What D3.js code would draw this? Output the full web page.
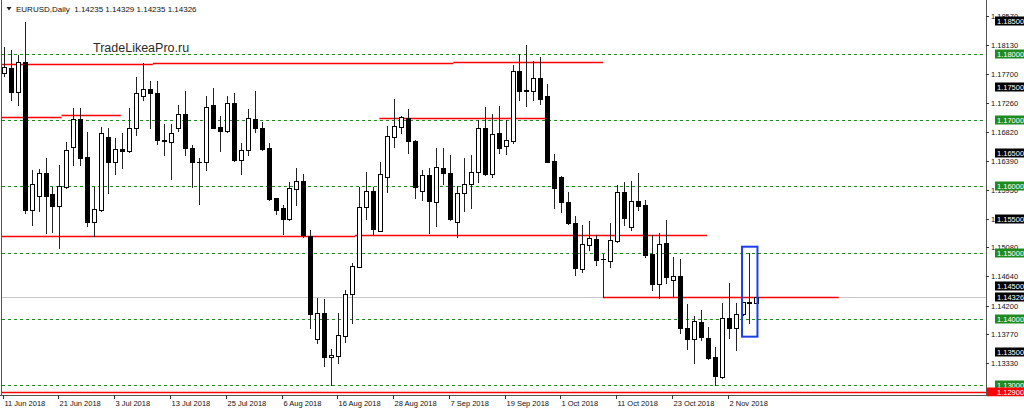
<!DOCTYPE html>
<html><head><meta charset="utf-8">
<script src="https://cdn.jsdelivr.net/npm/d3@7"></script>
<style>
body{margin:0;background:#fff}
svg{display:block}
text{font-family:"Liberation Sans",Arial,sans-serif}
</style>
</head><body>
<svg id="c" width="1024" height="413"></svg>
<script>
// ---- DATA (EURUSD Daily, bar 0 = 11 Jun 2018 ... bar 108 = 8 Nov 2018) ----
const open = [1.17708,1.17784,1.17431,1.17884,1.15643,1.15855,1.16198,1.15881,1.15708,1.15995,
1.16600,1.17014,1.16440,1.15462,1.15643,1.16742,1.16369,1.16560,1.16535,1.16878,
1.17370,1.17467,1.17415,1.16701,1.16675,1.16878,1.17089,1.16576,1.16373,1.16373,
1.17230,1.16893,1.16837,1.17255,1.16399,1.16550,1.17018,1.16878,1.16576,1.15820,
1.15669,1.15507,1.15961,1.16082,1.15251,1.13690,1.14092,1.13423,1.13438,1.13740,
1.14370,1.14787,1.15684,1.15935,1.15331,1.16137,1.16751,1.16902,1.17029,1.16690,
1.15935,1.16172,1.15769,1.16282,1.16198,1.15458,1.15896,1.16032,1.16222,1.16878,
1.16187,1.16811,1.16615,1.16690,1.17743,1.17452,1.17446,1.17642,1.17366,1.16388,
1.16147,1.15769,1.15452,1.14748,1.15115,1.15201,1.14899,1.14878,1.15180,1.15911,
1.15390,1.15779,1.15719,1.14979,1.14530,1.15150,1.14590,1.14646,1.13861,1.13695,
1.13956,1.13705,1.13418,1.13125,1.14007,1.13856,1.14068,1.14249,1.14235];
const high = [1.18100,1.18060,1.17985,1.18488,1.16248,1.16263,1.16429,1.15995,1.16323,1.16675,
1.17180,1.17180,1.16826,1.15991,1.16893,1.16878,1.16727,1.16802,1.17180,1.17648,
1.17860,1.17592,1.17592,1.16938,1.16938,1.17230,1.17446,1.16621,1.16429,1.17366,
1.17482,1.17063,1.17366,1.17406,1.16651,1.17165,1.17446,1.16977,1.16651,1.15825,
1.15719,1.16071,1.16273,1.16183,1.15341,1.14310,1.14294,1.13539,1.14083,1.14435,
1.14838,1.15995,1.16213,1.15995,1.16373,1.16912,1.17316,1.17068,1.17165,1.16700,
1.16248,1.16273,1.16576,1.16576,1.16474,1.16011,1.16424,1.16474,1.17003,1.17195,
1.17094,1.17215,1.17003,1.17834,1.17995,1.18136,1.17899,1.17959,1.17547,1.16489,
1.16162,1.15920,1.15550,1.15417,1.15477,1.15266,1.14979,1.15443,1.16021,1.16071,
1.16086,1.16202,1.15795,1.15266,1.15300,1.15492,1.14929,1.14903,1.14224,1.14042,
1.14133,1.13881,1.13579,1.14234,1.14536,1.14234,1.14255,1.14989,1.14329];
const low = [1.17668,1.17305,1.17230,1.15603,1.15417,1.15628,1.15296,1.15316,1.15069,1.15976,
1.16323,1.16323,1.15402,1.15251,1.15628,1.15900,1.16187,1.16273,1.16520,1.16776,
1.17305,1.16887,1.16640,1.16474,1.16107,1.16841,1.16474,1.15995,1.15730,1.16248,
1.16882,1.16535,1.16829,1.16384,1.16187,1.16474,1.16826,1.16550,1.15795,1.15578,
1.15281,1.15492,1.15719,1.15243,1.13856,1.13639,1.13287,1.13000,1.13337,1.13654,
1.13932,1.14782,1.15507,1.15281,1.15326,1.15920,1.16600,1.16800,1.16500,1.15829,
1.15795,1.15291,1.15406,1.16032,1.15492,1.15240,1.15628,1.15678,1.16062,1.16172,
1.16137,1.16500,1.16485,1.16660,1.17305,1.17215,1.17305,1.17245,1.16369,1.15669,
1.15613,1.15432,1.14660,1.14707,1.15039,1.14813,1.14326,1.14787,1.15165,1.15417,
1.15341,1.15643,1.14933,1.14435,1.14320,1.14541,1.14330,1.13785,1.13544,1.13332,
1.13680,1.13400,1.13000,1.13101,1.13705,1.13529,1.14057,1.13932,1.14235];
const close = [1.17808,1.17431,1.17884,1.15643,1.16032,1.16207,1.15855,1.15708,1.16006,1.16550,
1.17014,1.16434,1.15467,1.15659,1.16802,1.16369,1.16560,1.16535,1.16878,1.17406,
1.17467,1.17415,1.16701,1.16690,1.16802,1.17089,1.16585,1.16364,1.16370,1.17204,
1.16887,1.16837,1.17255,1.16399,1.16550,1.17029,1.16887,1.16560,1.15810,1.15643,
1.15507,1.15971,1.16082,1.15266,1.14072,1.14092,1.13427,1.13453,1.13755,1.14370,
1.14798,1.15693,1.15935,1.15352,1.16187,1.16761,1.16912,1.17044,1.16686,1.15995,
1.16172,1.15784,1.16288,1.16198,1.15507,1.15896,1.16032,1.16222,1.16878,1.16183,
1.16792,1.16576,1.16701,1.17743,1.17446,1.17437,1.17642,1.17320,1.16373,1.15971,
1.15760,1.15452,1.14767,1.15125,1.15216,1.14888,1.14896,1.15190,1.15911,1.15530,
1.15779,1.15708,1.14964,1.14530,1.15125,1.14631,1.14646,1.13861,1.13695,1.13967,
1.13730,1.13403,1.13136,1.14007,1.13856,1.14068,1.14249,1.14243,1.14326];

const xTickLabels = ["11 Jun 2018","21 Jun 2018","3 Jul 2018","13 Jul 2018","25 Jul 2018","6 Aug 2018",
"16 Aug 2018","28 Aug 2018","7 Sep 2018","19 Sep 2018","1 Oct 2018","11 Oct 2018","23 Oct 2018","2 Nov 2018"];
const xTickStep = 8;
const yTickLabels = ["1.18570","1.18130","1.17700","1.17260","1.16820","1.16390","1.15950","1.15510",
"1.15080","1.14640","1.14200","1.13770","1.13330"];
const greenLevels = [1.18,1.17,1.16,1.15,1.14,1.13];
const greenLabels = ["1.18000","1.17000","1.16000","1.15000","1.14000","1.13000"];
const blackLevels = [1.185,1.175,1.165,1.155,1.145,1.135];
const blackLabels = ["1.18500","1.17500","1.16500","1.15500","1.14500","1.13500"];
// red support / resistance lines: price, from bar, to bar
const redPrice = [1.17856,1.17869,1.17876,1.17053,1.17074,1.17029,1.15251,1.15266,1.14326];
const redFrom  = [-0.3,21.4,64.5,-0.3,8.3,53.9,-0.3,50.4,86];
const redTo    = [21.4,64.5,86,8.3,16.8,77.9,50.4,100.9,119.8];
const bottomLevel = 1.129, bottomLabel = "1.12900";
const lastPrice = 1.14326, lastLabel = "1.14326";
const boxFrom = 106, boxTo = 108, boxHigh = 1.15089, boxLow = 1.1373;
const headerText = "EURUSD,Daily  1.14235 1.14329 1.14235 1.14326";
const watermark = "TradeLikeaPro.ru";

// ---- CHART ----
const svg = d3.select("#c");
const plotL = 2, plotR = 986, plotB = 395;
const y = d3.scaleLinear().domain([1.128489, 1.188157]).range([plotB, 0]);
const x = d3.scaleLinear().domain([0, 108]).range([3.7, 3.7 + 6.97*108]);
const py = v => Math.round(y(v)) + 0.5;
const RED = "#ff0000";

svg.append("rect").attr("width",1024).attr("height",413).attr("fill","#fff");
svg.append("clipPath").attr("id","pc").append("rect")
  .attr("x",plotL).attr("y",0).attr("width",plotR-plotL).attr("height",plotB);
const g = svg.append("g").attr("clip-path","url(#pc)");

// green dashed levels
g.selectAll(".lvl").data(greenLevels).join("line")
  .attr("x1",plotL).attr("x2",plotR-3).attr("y1",py).attr("y2",py)
  .attr("stroke","#1f8a1f").attr("stroke-width",1).attr("stroke-dasharray","3,3");

// last price line
g.append("line").attr("x1",plotL).attr("x2",plotR).attr("y1",py(lastPrice)).attr("y2",py(lastPrice))
  .attr("stroke","#c8c8c8").attr("stroke-width",1);

// bottom red line
g.append("line").attr("x1",plotL).attr("x2",plotR).attr("y1",py(bottomLevel)).attr("y2",py(bottomLevel))
  .attr("stroke",RED).attr("stroke-width",1.5);

// red S/R lines
g.append("g").selectAll("line").data(d3.range(redPrice.length)).join("line")
  .attr("x1",i=>x(redFrom[i])).attr("x2",i=>x(redTo[i]))
  .attr("y1",i=>py(redPrice[i])).attr("y2",i=>py(redPrice[i]))
  .attr("stroke",RED).attr("stroke-width",1.5);

// candles
const idx = d3.range(open.length);
const cx = i => Math.round(x(i)) + 0.5;
g.append("g").selectAll("line").data(idx).join("line")
  .attr("x1",cx).attr("x2",cx)
  .attr("y1",i=>Math.round(y(high[i]))).attr("y2",i=>Math.round(y(low[i]))+1)
  .attr("stroke","#222").attr("stroke-width",1);
g.append("g").selectAll("rect").data(idx).join("rect")
  .attr("x",i=>Math.round(x(i))-1.5).attr("width",4)
  .attr("y",i=>py(Math.max(open[i],close[i])))
  .attr("height",i=>Math.max(0.001, Math.round(y(Math.min(open[i],close[i]))) - Math.round(y(Math.max(open[i],close[i])))))
  .attr("fill",i=>close[i]>=open[i] ? "#fff" : "#000")
  .attr("stroke","#000").attr("stroke-width",1);

// blue highlight box
g.append("rect")
  .attr("x",x(boxFrom)-0.5).attr("y",y(boxHigh))
  .attr("width",x(boxTo)-x(boxFrom)+1.5).attr("height",y(boxLow)-y(boxHigh))
  .attr("fill","none").attr("stroke","#1f3fe6").attr("stroke-width",2);

// header
svg.append("path").attr("d","M6.5,7 L11.5,7 L9,10.5 Z").attr("fill","#222");
svg.append("text").attr("x",16).attr("y",12).attr("font-size",8).attr("fill","#111")
  .attr("xml:space","preserve").text(headerText);
svg.append("text").attr("x",93).attr("y",52).attr("font-size",12.5).attr("fill","#2a2a2a").text(watermark);

// frame
svg.append("line").attr("x1",1.5).attr("x2",1.5).attr("y1",0).attr("y2",plotB).attr("stroke","#555");
svg.append("line").attr("x1",0).attr("x2",plotR+1).attr("y1",plotB+0.5).attr("y2",plotB+0.5).attr("stroke","#555");
svg.append("line").attr("x1",plotR+0.5).attr("x2",plotR+0.5).attr("y1",0).attr("y2",plotB).attr("stroke","#555");

// x axis
const xt = svg.append("g");
xTickLabels.forEach((lab,k)=>{
  const xx = Math.round(x(k*xTickStep)) - 0.5;
  xt.append("line").attr("x1",xx).attr("x2",xx).attr("y1",plotB).attr("y2",plotB+4).attr("stroke","#333");
  xt.append("text").attr("x",xx+1).attr("y",405.5).attr("font-size",7.5).attr("fill","#111").text(lab);
});

// y axis plain tick labels
const yt = svg.append("g");
yTickLabels.forEach(lab=>{
  const yy = py(+lab);
  yt.append("line").attr("x1",plotR).attr("x2",plotR+3).attr("y1",yy).attr("y2",yy).attr("stroke","#333");
  yt.append("text").attr("x",991).attr("y",yy+2.7).attr("font-size",7.5).attr("fill","#111").text(lab);
});

// boxed labels
function boxLabel(v, lab, color){
  const yy = Math.round(y(v));
  svg.append("rect").attr("x",995).attr("y",yy-4.5).attr("width",29).attr("height",9).attr("fill",color);
  svg.append("text").attr("x",997).attr("y",yy+2.7).attr("font-size",7.5).attr("fill","#fff").text(lab);
}
blackLevels.forEach((v,k)=>boxLabel(v, blackLabels[k], "#000"));
greenLevels.forEach((v,k)=>boxLabel(v, greenLabels[k], "#1f8a1f"));
boxLabel(lastPrice, lastLabel, "#000");
// bottom red label (clipped by axis bottom)
svg.append("clipPath").attr("id","ac").append("rect").attr("x",987).attr("y",0).attr("width",37).attr("height",plotB+1.5);
const rl = svg.append("g").attr("clip-path","url(#ac)");
const yb = Math.round(y(bottomLevel));
rl.append("rect").attr("x",987).attr("y",yb-4.5).attr("width",37).attr("height",9).attr("fill",RED);
rl.append("text").attr("x",997).attr("y",yb+2.7).attr("font-size",7.5).attr("fill","#fff").text(bottomLabel);
</script>
</body></html>
